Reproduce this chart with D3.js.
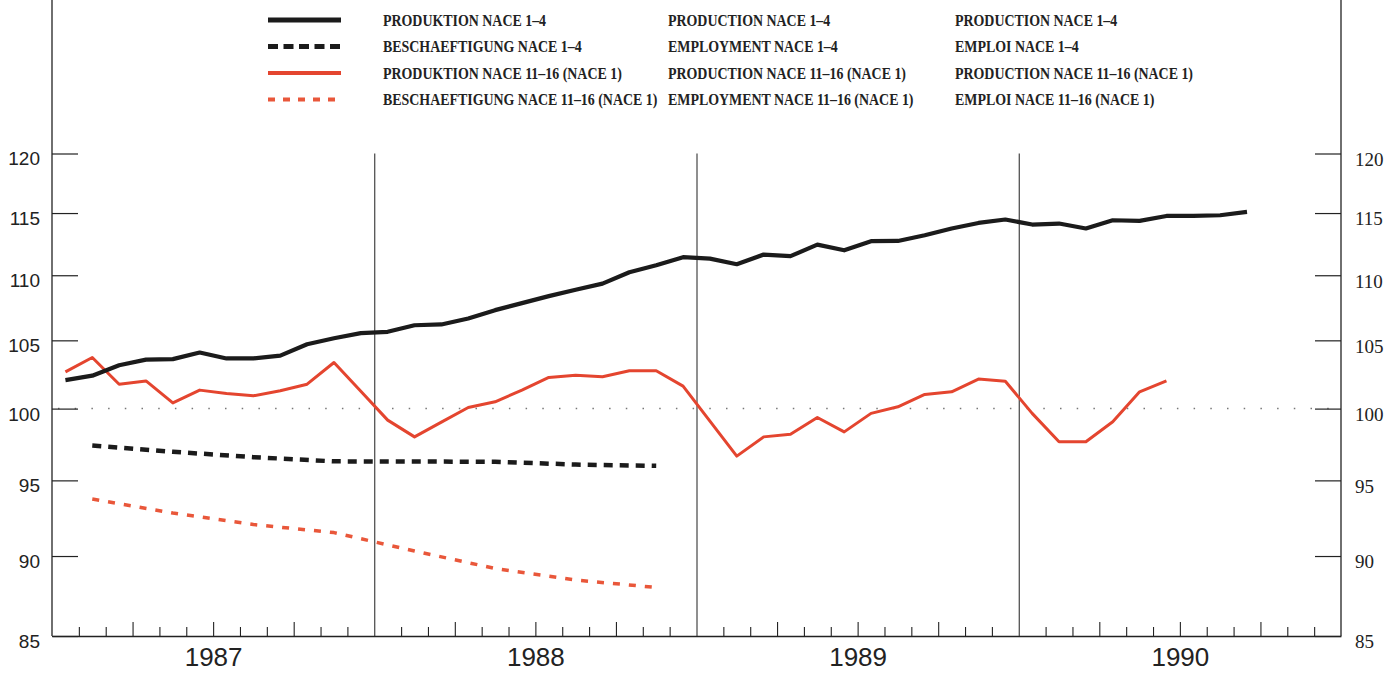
<!DOCTYPE html>
<html>
<head>
<meta charset="utf-8">
<script src="https://cdn.jsdelivr.net/npm/d3@7"></script>
<style>
  html, body { margin: 0; padding: 0; background: #ffffff; }
  svg { display: block; }
</style>
</head>
<body>
<svg id="chart" width="1400" height="674"></svg>
<script>
// ---------------- data ----------------
const years = ["1987", "1988", "1989", "1990"];
const yTicks = [85, 90, 95, 100, 105, 110, 115, 120];

// monthly index, Jan 1987 = 0
const prodNace14 = [102.06,102.38,103.15,103.56,103.60,104.09,103.65,103.65,103.86,104.71,105.16,105.54,
  105.64,106.14,106.20,106.65,107.29,107.83,108.37,108.87,109.34,110.24,110.79,111.43,
  111.31,110.87,111.64,111.51,112.43,111.98,112.71,112.73,113.19,113.74,114.19,114.47,
  114.06,114.14,113.74,114.41,114.36,114.76,114.76,114.82,115.09];
const prodNace1116 = [102.66,103.72,101.76,102.00,100.41,101.33,101.09,100.92,101.28,101.76,103.35,101.25,
  99.18,98.00,99.04,100.08,100.49,101.33,102.25,102.42,102.30,102.74,102.74,101.62,
  99.11,96.66,98.00,98.19,99.37,98.35,99.66,100.13,101.02,101.21,102.13,101.98,
  99.66,97.66,97.66,99.06,101.21,102.00];
// quarterly, Q1 1987 = 0
const empNace14 = [97.39,96.96,96.59,96.30,96.29,96.27,96.08,95.99];
const empNace1116 = [93.74,92.81,92.05,91.52,90.32,89.20,88.47,88.00];

const legendDE = ["PRODUKTION NACE 1–4", "BESCHAEFTIGUNG NACE 1–4", "PRODUKTION NACE 11–16 (NACE 1)", "BESCHAEFTIGUNG NACE 11–16 (NACE 1)"];
const legendEN = ["PRODUCTION NACE 1–4", "EMPLOYMENT NACE 1–4", "PRODUCTION NACE 11–16 (NACE 1)", "EMPLOYMENT NACE 11–16 (NACE 1)"];
const legendFR = ["PRODUCTION NACE 1–4", "EMPLOI NACE 1–4", "PRODUCTION NACE 11–16 (NACE 1)", "EMPLOI NACE 11–16 (NACE 1)"];

// ---------------- layout ----------------
const svg = d3.select("#chart");
const X0 = 52, X1 = 1341, YB = 636, YT = 153.5;
const BLACK = "#1b1b1b", RED = "#e4452f", RED2 = "#e9573a";

const x = d3.scaleLinear().domain([0, 48]).range([X0, X1]);
const y = d3.scaleLog().domain([85, 120]).range([YB, YT]);

const styles = [
  {color: BLACK, width: 4.2, dash: null},
  {color: BLACK, width: 4.5, dash: "9,7"},
  {color: RED, width: 3, dash: null},
  {color: RED2, width: 3.5, dash: "7,9"}
];

// dotted 100 reference line
svg.append("line")
  .attr("x1", X0 + 6).attr("x2", X1).attr("y1", y(100)).attr("y2", y(100))
  .attr("stroke", "#777").attr("stroke-width", 1.5).attr("stroke-dasharray", "1.5,15.2");

// left axis
const gl = svg.append("g").attr("transform", `translate(${X0},0)`)
  .call(d3.axisLeft(y).tickValues(yTicks).tickFormat(d3.format("d")).tickSize(-26).tickPadding(12).tickSizeOuter(0));
gl.select(".domain").remove();
gl.selectAll(".tick line").attr("stroke", "#222").attr("stroke-width", 1.2);
gl.selectAll(".tick text").attr("font-family", "Liberation Sans, Arial, sans-serif")
  .attr("font-size", 19).attr("fill", "#222").attr("dy", "0.6em");

// right axis
const gr = svg.append("g").attr("transform", `translate(${X1},0)`)
  .call(d3.axisRight(y).tickValues(yTicks).tickFormat(d3.format("d")).tickSize(-26).tickPadding(14).tickSizeOuter(0));
gr.select(".domain").remove();
gr.selectAll(".tick line").attr("stroke", "#222").attr("stroke-width", 1.2);
gr.selectAll(".tick text").attr("font-family", "Liberation Serif, Times New Roman, serif")
  .attr("font-size", 19).attr("fill", "#222").attr("dy", "0.62em");

// frame lines (axes extend to top)
svg.append("line").attr("x1", X0).attr("x2", X0).attr("y1", 0).attr("y2", YB)
  .attr("stroke", "#222").attr("stroke-width", 1.3);
svg.append("line").attr("x1", X1).attr("x2", X1).attr("y1", 0).attr("y2", YB)
  .attr("stroke", "#222").attr("stroke-width", 1.3);

// bottom axis: month ticks
const months = d3.range(1, 48).filter(m => m % 12 !== 0);
const gm = svg.append("g").attr("transform", `translate(0,${YB})`)
  .call(d3.axisBottom(x).tickValues(months.filter(m => m % 3 !== 0)).tickSize(-9).tickFormat("").tickSizeOuter(0));
gm.select(".domain").attr("stroke", "#222").attr("stroke-width", 1.3);
gm.selectAll(".tick line").attr("stroke", "#222").attr("stroke-width", 1.1);
const gq = svg.append("g").attr("transform", `translate(0,${YB})`)
  .call(d3.axisBottom(x).tickValues(months.filter(m => m % 3 === 0)).tickSize(-14).tickFormat("").tickSizeOuter(0));
gq.select(".domain").remove();
gq.selectAll(".tick line").attr("stroke", "#222").attr("stroke-width", 1.1);
// year separators
const gy = svg.append("g").attr("transform", `translate(0,${YB})`)
  .call(d3.axisBottom(x).tickValues([12, 24, 36]).tickSize(-(YB - YT)).tickFormat("").tickSizeOuter(0));
gy.select(".domain").remove();
gy.selectAll(".tick line").attr("stroke", "#333").attr("stroke-width", 1.1);
// year labels
const gyl = svg.append("g").attr("transform", `translate(0,${YB})`)
  .call(d3.axisBottom(x).tickValues([6, 18, 30, 42]).tickFormat((d, i) => years[i]).tickSize(0).tickPadding(12));
gyl.select(".domain").remove();
gyl.selectAll(".tick text").attr("font-family", "Liberation Sans, Arial, sans-serif")
  .attr("font-size", 26).attr("fill", "#222");

// ---------------- series ----------------
const monthLine = d3.line().x((d, i) => x(i + 0.5)).y(d => y(d));
const quarterLine = d3.line().x((d, i) => x(i * 3 + 1.5)).y(d => y(d));

const series = [
  {data: empNace1116, gen: quarterLine, s: styles[3]},
  {data: empNace14, gen: quarterLine, s: styles[1]},
  {data: prodNace1116, gen: monthLine, s: styles[2]},
  {data: prodNace14, gen: monthLine, s: styles[0]}
];
series.forEach(sr => {
  svg.append("path").datum(sr.data)
    .attr("d", sr.gen)
    .attr("fill", "none")
    .attr("stroke", sr.s.color)
    .attr("stroke-width", sr.s.width)
    .attr("stroke-linejoin", "round")
    .attr("stroke-dasharray", sr.s.dash);
});

// ---------------- legend ----------------
const lg = svg.append("g");
const rowY = [20, 46.5, 73, 99.5];
styles.forEach((s, i) => {
  lg.append("line").attr("x1", 268).attr("x2", 341).attr("y1", rowY[i]).attr("y2", rowY[i])
    .attr("stroke", s.color).attr("stroke-width", i === 0 ? 5 : (i === 1 ? 5 : 4))
    .attr("stroke-dasharray", i === 1 ? "10,5.5" : (i === 3 ? "7,8" : null));
  [[383, legendDE], [668, legendEN], [955, legendFR]].forEach(([cx, arr]) => {
    lg.append("text")
      .attr("transform", `translate(${cx},${rowY[i] + 5.5}) scale(0.87,1)`)
      .attr("font-family", "Liberation Serif, Times New Roman, serif")
      .attr("font-weight", "bold")
      .attr("font-size", 16)
      .attr("fill", "#222")
      .text(arr[i]);
  });
});
</script>
</body>
</html>
